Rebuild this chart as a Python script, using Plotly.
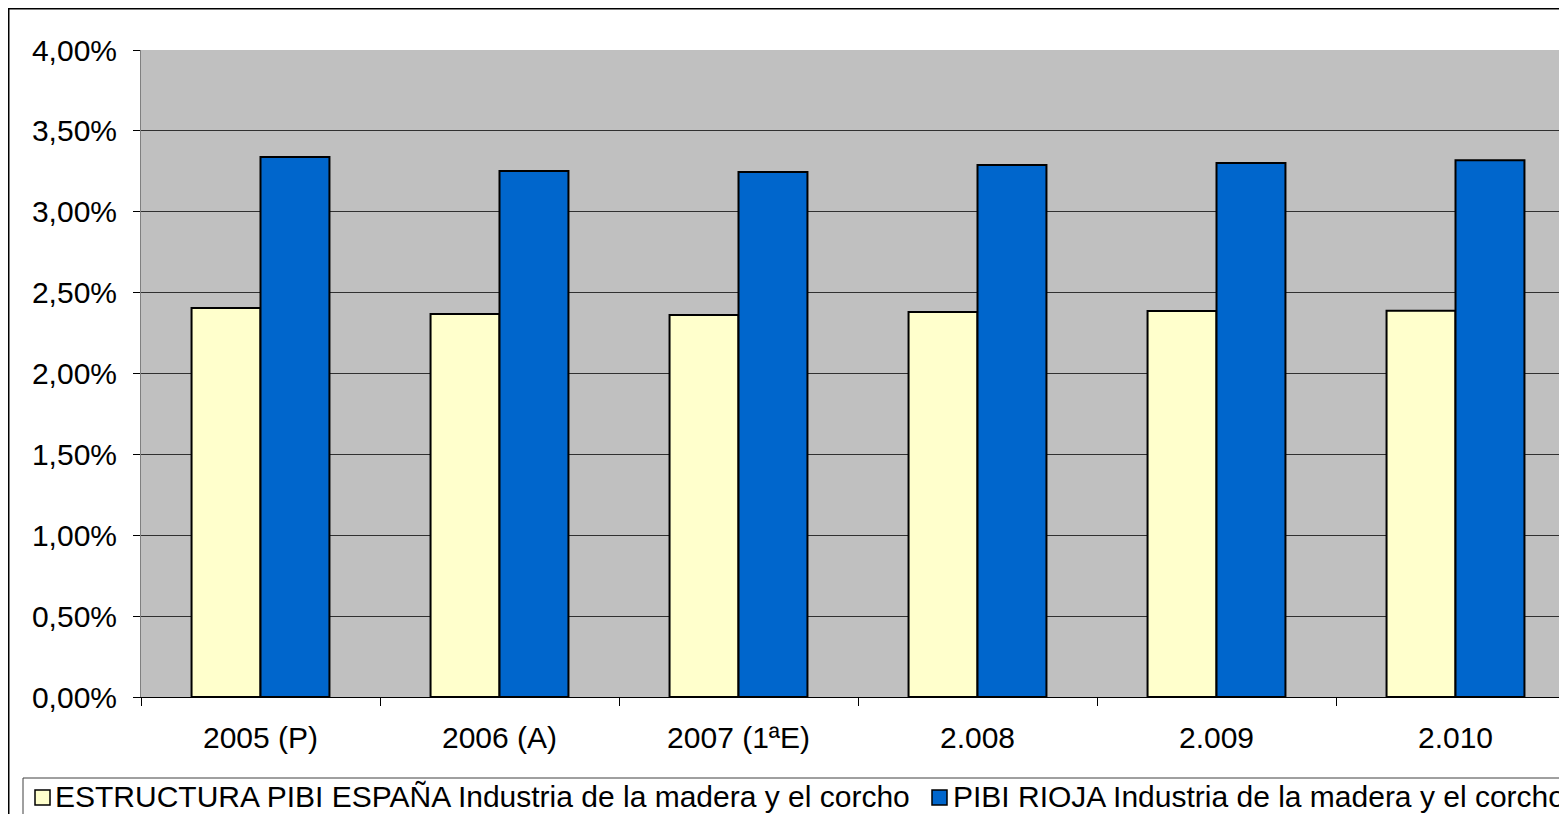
import plotly.graph_objects as go

categories = ["2005 (P)", "2006 (A)", "2007 (1ªE)", "2.008", "2.009", "2.010"]
espana = [0.02405, 0.02368, 0.02362, 0.02380, 0.02386, 0.02388]
rioja = [0.03338, 0.03252, 0.03246, 0.03289, 0.03301, 0.03318]
series_names = [
    "ESTRUCTURA PIBI ESPAÑA Industria de la madera y el corcho",
    "PIBI RIOJA Industria de la madera y el corcho",
]
series_colors = ["#FFFFCC", "#0066CC"]
y_ticks = [0, 0.005, 0.01, 0.015, 0.02, 0.025, 0.03, 0.035, 0.04]

# the page body has an 8px margin, so the figure starts at page (8, 8)
OFF = 8
W, H = 1567 - OFF, 814 - OFF
ML, MR, MT, MB = 141 - OFF, 0, 50 - OFF, 814 - 697
PW = W - ML - MR
PH = H - MT - MB

def px_x(p):  # page pixel -> paper x
    return (p - OFF - ML) / PW

def px_y(p):  # page pixel -> paper y
    return (H - MB - (p - OFF)) / PH

FONT = "Liberation Sans, Arial, sans-serif"
FS = 30

fig = go.Figure()
for vals, name, col in zip([espana, rioja], series_names, series_colors):
    fig.add_trace(go.Bar(
        x=categories, y=vals, name=name,
        marker=dict(color=col, line=dict(color="#000000", width=2)),
    ))

legend_items = [(35, 54), (932, 952)]
shapes = [
    # outer chart border
    dict(type="rect", xref="paper", yref="paper",
         x0=px_x(OFF + 0.75), x1=1.1, y0=px_y(OFF + 0.75), y1=-0.5,
         line=dict(color="#000000", width=1.5), fillcolor="rgba(0,0,0,0)",
         layer="below"),
    # legend border
    dict(type="rect", xref="paper", yref="paper",
         x0=px_x(23), x1=1.1, y0=px_y(778), y1=-0.5,
         line=dict(color="#404040", width=1), fillcolor="rgba(0,0,0,0)",
         layer="above"),
]
annotations = []
for (sx, tx), name, col in zip(legend_items, series_names, series_colors):
    shapes.append(dict(type="rect", xref="paper", yref="paper",
                       x0=px_x(sx), x1=px_x(sx + 15), y0=px_y(790), y1=px_y(805),
                       line=dict(color="#000000", width=1.5), fillcolor=col,
                       layer="above"))
    annotations.append(dict(xref="paper", yref="paper", x=px_x(tx), y=px_y(796),
                            xanchor="left", yanchor="middle", showarrow=False,
                            borderpad=0,
                            text=name, font=dict(family=FONT, size=FS, color="#000000")))

fig.update_layout(
    width=W, height=H,
    margin=dict(l=ML, r=MR, t=MT, b=MB, pad=0, autoexpand=False),
    paper_bgcolor="white",
    plot_bgcolor="#C0C0C0",
    separators=",.",
    barmode="group",
    bargap=0.423,
    bargroupgap=0,
    font=dict(family=FONT, size=FS, color="#000000"),
    showlegend=False,
    xaxis=dict(
        type="category",
        range=[-0.5, 5.5 - 8 / 239],
        tickson="boundaries",
        ticks="outside", ticklen=8, tickcolor="#000000", tickwidth=1,
        showline=True, linecolor="#000000", linewidth=1,
        showgrid=False,
        ticklabelstandoff=14,
        tickfont=dict(family=FONT, size=FS),
    ),
    yaxis=dict(
        range=[0, 0.04],
        tickvals=y_ticks,
        tickformat=".2%",
        ticks="outside", ticklen=7, tickcolor="#000000", tickwidth=1,
        showline=True, linecolor="#808080", linewidth=1,
        showgrid=True, gridcolor="#303030", gridwidth=1,
        zeroline=False,
        ticklabelstandoff=10,
        tickfont=dict(family=FONT, size=FS),
    ),
    shapes=shapes,
    annotations=annotations,
)

fig.write_html("out.html")
